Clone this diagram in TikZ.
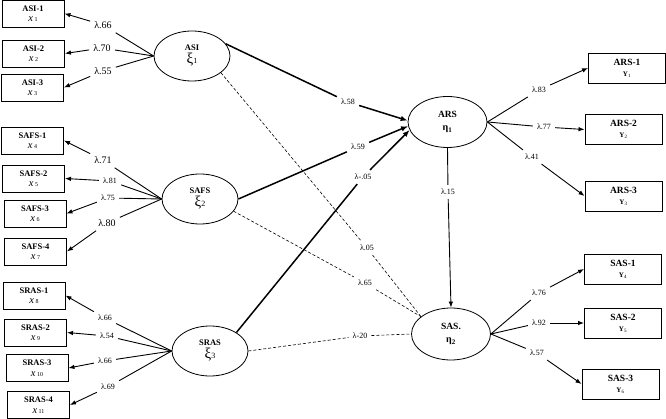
\documentclass[tikz,border=0pt]{standalone}
\usepackage{fontspec}
\setmainfont{Liberation Serif}
\usetikzlibrary{arrows.meta,shapes.geometric}
\begin{document}
\begin{tikzpicture}[x=1pt,y=-1pt,
 obs/.style={draw, line width=0.9pt, minimum width=62pt, minimum height=27pt, inner sep=0pt, align=center, font=\fontsize{8.5}{10.5}\selectfont},
 obsr/.style={obs, minimum width=77pt, minimum height=30pt, font=\fontsize{9.5}{11}\selectfont},
 lat/.style={draw, ellipse, line width=0.8pt, minimum width=76pt, minimum height=50pt, inner sep=0pt, align=center},
 lab/.style={font=\fontsize{10}{11}\selectfont, inner sep=4pt},
 labs/.style={font=\fontsize{8}{9}\selectfont, inner sep=4pt},
 ln/.style={line width=0.9pt},
 arr/.style={line width=0.9pt, -{Latex[length=6pt,width=4.5pt]}},
 sln/.style={line width=1.5pt},
 sarr/.style={line width=1.5pt, -{Latex[length=7pt,width=5.5pt]}},
 dsh/.style={line width=0.6pt, dash pattern=on 3pt off 2pt}]
\useasboundingbox (0,0) rectangle (666,419);
\newcommand{\xsub}[1]{{\itshape\fontsize{10.5}{10.5}\selectfont x}\,{\fontsize{6}{6}\selectfont #1}}
\newcommand{\ysub}[1]{{\fontsize{7}{7}\selectfont\textbf{Y}\textsubscript{#1}}}
% left observed
\node[obs] (x1) at (33,13.5) {\textbf{ASI-1}\\\xsub{1}};
\node[obs] (x2) at (33.5,53.5) {\textbf{ASI-2}\\\xsub{2}};
\node[obs] (x3) at (32.5,87.5) {\textbf{ASI-3}\\\xsub{3}};
\node[obs] (x4) at (32.5,140.5) {\textbf{SAFS-1}\\\xsub{4}};
\node[obs] (x5) at (33.5,178.5) {\textbf{SAFS-2}\\\xsub{5}};
\node[obs] (x6) at (35,213.5) {\textbf{SAFS-3}\\\xsub{6}};
\node[obs] (x7) at (35.5,251.5) {\textbf{SAFS-4}\\\xsub{7}};
\node[obs] (x8) at (34,295.5) {\textbf{SRAS-1}\\\xsub{8}};
\node[obs] (x9) at (35.5,332.5) {\textbf{SRAS-2}\\\xsub{9}};
\node[obs] (x10) at (37,368) {\textbf{SRAS-3}\\\xsub{10}};
\node[obs] (x11) at (38.5,405) {\textbf{SRAS-4}\\\xsub{11}};
% right observed
\node[obsr] (y1) at (627,68) {\textbf{ARS-1}\\\ysub{1}};
\node[obsr] (y2) at (623.5,129.5) {\textbf{ARS-2}\\\ysub{2}};
\node[obsr] (y3) at (623.5,196) {\textbf{ARS-3}\\\ysub{3}};
\node[obsr] (y4) at (623,269) {\textbf{SAS-1}\\\ysub{4}};
\node[obsr] (y5) at (623,323) {\textbf{SAS-2}\\\ysub{5}};
\node[obsr] (y6) at (620.5,384) {\textbf{SAS-3}\\\ysub{6}};
% latent
\node[lat] (asi) at (192,56) {{\fontsize{8.5}{9}\selectfont\textbf{ASI}}\\[1pt]{\fontsize{15}{15}\selectfont ξ}{\fontsize{8}{8}\selectfont 1}};
\node[lat] (safs) at (200,199) {{\fontsize{8.5}{9}\selectfont\textbf{SAFS}}\\[1pt]{\fontsize{15}{15}\selectfont ξ}{\fontsize{8}{8}\selectfont 2}};
\node[lat] (sras) at (210,351) {{\fontsize{8.5}{9}\selectfont\textbf{SRAS}}\\[1pt]{\fontsize{15}{15}\selectfont ξ}{\fontsize{8}{8}\selectfont 3}};
\node[lat, minimum width=79pt, minimum height=51pt] (ars) at (447.5,122) {{\fontsize{9.5}{10}\selectfont\textbf{ARS}}\\[1pt]\textbf{η\textsubscript{1}}};
\node[lat, minimum width=79pt, minimum height=52pt] (sas) at (451,334) {{\fontsize{9.5}{10}\selectfont\textbf{SAS.}}\\[1pt]\textbf{η\textsubscript{2}}};
% measurement labels left
\node[lab] (l1) at (103,25) {λ.66};
\node[lab] (l2) at (102,48) {λ.70};
\node[lab] (l3) at (103,71) {λ.55};
\node[lab] (l4) at (103,160) {λ.71};
\node[labs] (l5) at (110,181) {λ.81};
\node[labs] (l6) at (108,198) {λ.75};
\node[lab] (l7) at (107,223) {λ.80};
\node[labs] (l8) at (105,318) {λ.66};
\node[labs] (l9) at (107,336) {λ.54};
\node[labs] (l10) at (105,361) {λ.66};
\node[labs] (l11) at (108,387) {λ.69};
% right labels
\node[labs] (r1) at (539,90) {λ.83};
\node[labs] (r2) at (544,127) {λ.77};
\node[labs] (r3) at (532,157) {λ.41};
\node[labs] (r4) at (539,293) {λ.76};
\node[labs] (r5) at (539,323) {λ.92};
\node[labs] (r6) at (537,353) {λ.57};
% structural labels
\node[labs] (s1) at (348,102) {λ.58};
\node[labs] (s2) at (358,147) {λ.59};
\node[labs] (s3) at (363,177) {λ-.05};
\node[labs] (s4) at (367,248) {λ.05};
\node[labs] (s5) at (365,283) {λ.65};
\node[labs] (s6) at (360,336) {λ-20};
\node[labs] (s7) at (448,192) {λ.15};
% measurement paths left
\foreach \l/\x in {l1/x1,l2/x2,l3/x3}{\draw[ln] (asi.west) -- (\l); \draw[arr] (\l) -- (\x.east);}
\foreach \l/\x in {l4/x4,l5/x5,l6/x6,l7/x7}{\draw[ln] (safs.west) -- (\l); \draw[arr] (\l) -- (\x.east);}
\foreach \l/\x in {l8/x8,l9/x9,l10/x10,l11/x11}{\draw[ln] (sras.west) -- (\l); \draw[arr] (\l) -- (\x.east);}
% right paths
\foreach \l/\y in {r1/y1,r2/y2,r3/y3}{\draw[ln] (ars.east) -- (\l); \draw[arr] (\l) -- (\y.west);}
\foreach \l/\y in {r4/y4,r5/y5,r6/y6}{\draw[ln] (sas.east) -- (\l); \draw[arr] (\l) -- (\y.west);}
% structural
\draw[sln] (asi.20) -- (s1); \draw[sarr] (s1) -- (ars.178);
\draw[sln] (safs.east) -- (s2); \draw[sarr] (s2) -- (ars.186);
\draw[sln] (sras.35) -- (s3); \draw[sarr] (s3) -- (ars.192);
\draw[dsh] (asi.-30) -- (s4) -- (sas.150);
\draw[dsh] (safs.-20) -- (s5) -- (sas.150);
\draw[dsh] (sras.east) -- (s6) -- (sas.180);
\draw[ln] (ars.south) -- (s7); \draw[arr] (s7) -- (sas.north);
\end{tikzpicture}
\end{document}
